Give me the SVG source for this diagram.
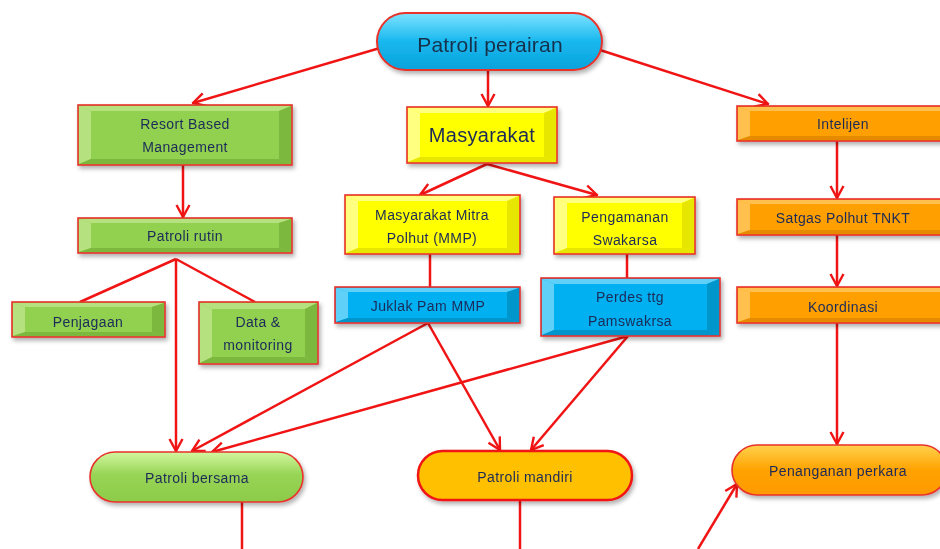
<svg xmlns="http://www.w3.org/2000/svg" width="940" height="549" viewBox="0 0 940 549">
<defs>
<style>
.t{font-family:"Liberation Sans",Arial,sans-serif;font-size:14px;fill:#1c2a58;text-anchor:middle;letter-spacing:0.4px}
.box{stroke:#e8312a;stroke-width:1.6}
.g{fill:#92d050}.gl{fill:#b5e27f}.gd{fill:#7cb83e}
.y{fill:#ffff00}.yl{fill:#ffff80}.yd{fill:#e6e600}
.o{fill:#ffa000}.ol{fill:#ffc04d}.od{fill:#e68a00}
.b{fill:#00b0f0}.bl{fill:#5fd0f8}.bd{fill:#0096cc}
.c{fill:none;stroke:#f01414;stroke-width:2.5}
</style>
<marker id="ah" viewBox="0 0 15 16" refX="13.5" refY="8" markerWidth="15" markerHeight="16" markerUnits="userSpaceOnUse" orient="auto">
<path d="M1.5,1.5 L13.5,8 L1.5,14.5" fill="none" stroke="#f01414" stroke-width="2.4"/>
</marker>
<filter id="sh" x="-10%" y="-20%" width="125%" height="150%">
<feDropShadow dx="2" dy="3" stdDeviation="2" flood-color="#000" flood-opacity="0.3"/>
</filter>
<linearGradient id="gCyan" x1="0" y1="0" x2="0" y2="1">
<stop offset="0" stop-color="#7ee3ff"/><stop offset="0.5" stop-color="#17b8ee"/><stop offset="1" stop-color="#0aa2dc"/>
</linearGradient>
<linearGradient id="gGreen" x1="0" y1="0" x2="0" y2="1">
<stop offset="0" stop-color="#d2f7a0"/><stop offset="0.45" stop-color="#98d455"/><stop offset="1" stop-color="#8ccb4a"/>
</linearGradient>
<linearGradient id="gOrange" x1="0" y1="0" x2="0" y2="1">
<stop offset="0" stop-color="#ffd24d"/><stop offset="0.5" stop-color="#ffa200"/><stop offset="1" stop-color="#ff9a00"/>
</linearGradient>
</defs>
<rect width="940" height="549" fill="#ffffff"/>

<g id="connectors">
<line class="c" x1="380" y1="48" x2="193" y2="103" marker-end="url(#ah)"/>
<line class="c" x1="488" y1="70" x2="488" y2="106" marker-end="url(#ah)"/>
<line class="c" x1="600" y1="50" x2="768" y2="104" marker-end="url(#ah)"/>
<line class="c" x1="183" y1="165" x2="183" y2="217" marker-end="url(#ah)"/>
<line class="c" x1="487" y1="164" x2="420" y2="195" marker-end="url(#ah)"/>
<line class="c" x1="487" y1="164" x2="597" y2="195" marker-end="url(#ah)"/>
<line class="c" x1="430" y1="254" x2="430" y2="287"/>
<line class="c" x1="627" y1="254" x2="627" y2="278"/>
<line class="c" x1="837" y1="141" x2="837" y2="198" marker-end="url(#ah)"/>
<line class="c" x1="837" y1="235" x2="837" y2="286" marker-end="url(#ah)"/>
<line class="c" x1="837" y1="323" x2="837" y2="444" marker-end="url(#ah)"/>
<line class="c" x1="176" y1="259" x2="80" y2="302"/>
<line class="c" x1="176" y1="259" x2="255" y2="302"/>
<line class="c" x1="176" y1="259" x2="176" y2="451" marker-end="url(#ah)"/>
<line class="c" x1="428" y1="323" x2="192" y2="451" marker-end="url(#ah)"/>
<line class="c" x1="628" y1="336" x2="212" y2="452" marker-end="url(#ah)"/>
<line class="c" x1="428" y1="323" x2="500" y2="450" marker-end="url(#ah)"/>
<line class="c" x1="628" y1="336" x2="531" y2="450" marker-end="url(#ah)"/>
<line class="c" x1="242" y1="502" x2="242" y2="549"/>
<line class="c" x1="520" y1="500" x2="520" y2="549"/>
<line class="c" x1="698" y1="549" x2="737" y2="484" marker-end="url(#ah)"/>
</g>

<g id="patroli-perairan" filter="url(#sh)">
<rect x="377" y="13" width="225" height="57" rx="28.5" fill="url(#gCyan)" stroke="#e8312a" stroke-width="2"/>
<text class="t" x="490" y="52" style="font-size:21px;letter-spacing:0.2px;fill:#14304c">Patroli perairan</text>
</g>

<g id="resort-based" filter="url(#sh)">
<rect class="box g" x="78" y="105" width="214" height="60"/>
<polygon class="gl" points="79,106 291,106 279,111 91,111"/>
<polygon class="gl" points="79,106 91,111 91,159 79,164"/>
<polygon class="gd" points="291,106 279,111 279,159 291,164"/>
<polygon class="gd" points="79,164 91,159 279,159 291,164"/>
<text class="t" x="185" y="129">Resort Based</text>
<text class="t" x="185" y="152">Management</text>
</g>

<g id="patroli-rutin" filter="url(#sh)">
<rect class="box g" x="78" y="218" width="214" height="35"/>
<polygon class="gl" points="79,219 291,219 279,223 91,223"/>
<polygon class="gl" points="79,219 91,223 91,248 79,252"/>
<polygon class="gd" points="291,219 279,223 279,248 291,252"/>
<polygon class="gd" points="79,252 91,248 279,248 291,252"/>
<text class="t" x="185" y="241">Patroli rutin</text>
</g>

<g id="penjagaan" filter="url(#sh)">
<rect class="box g" x="12" y="302" width="153" height="35"/>
<polygon class="gl" points="13,303 164,303 152,307 25,307"/>
<polygon class="gl" points="13,303 25,307 25,332 13,336"/>
<polygon class="gd" points="164,303 152,307 152,332 164,336"/>
<polygon class="gd" points="13,336 25,332 152,332 164,336"/>
<text class="t" x="88" y="327">Penjagaan</text>
</g>

<g id="data-monitoring" filter="url(#sh)">
<rect class="box g" x="199" y="302" width="119" height="62"/>
<polygon class="gl" points="200,303 317,303 305,309 212,309"/>
<polygon class="gl" points="200,303 212,309 212,357 200,363"/>
<polygon class="gd" points="317,303 305,309 305,357 317,363"/>
<polygon class="gd" points="200,363 212,357 305,357 317,363"/>
<text class="t" x="258" y="327">Data &amp;</text>
<text class="t" x="258" y="350">monitoring</text>
</g>

<g id="masyarakat" filter="url(#sh)">
<rect class="box y" x="407" y="107" width="150" height="56"/>
<polygon class="yl" points="408,108 556,108 544,113 420,113"/>
<polygon class="yl" points="408,108 420,113 420,157 408,162"/>
<polygon class="yd" points="556,108 544,113 544,157 556,162"/>
<polygon class="yd" points="408,162 420,157 544,157 556,162"/>
<text class="t" x="482" y="142" style="font-size:20px;letter-spacing:0.3px">Masyarakat</text>
</g>

<g id="mmp" filter="url(#sh)">
<rect class="box y" x="345" y="195" width="175" height="59"/>
<polygon class="yl" points="346,196 519,196 507,201 358,201"/>
<polygon class="yl" points="346,196 358,201 358,248 346,253"/>
<polygon class="yd" points="519,196 507,201 507,248 519,253"/>
<polygon class="yd" points="346,253 358,248 507,248 519,253"/>
<text class="t" x="432" y="220">Masyarakat Mitra</text>
<text class="t" x="432" y="243">Polhut (MMP)</text>
</g>

<g id="pengamanan" filter="url(#sh)">
<rect class="box y" x="554" y="197" width="141" height="57"/>
<polygon class="yl" points="555,198 694,198 682,203 567,203"/>
<polygon class="yl" points="555,198 567,203 567,248 555,253"/>
<polygon class="yd" points="694,198 682,203 682,248 694,253"/>
<polygon class="yd" points="555,253 567,248 682,248 694,253"/>
<text class="t" x="625" y="222">Pengamanan</text>
<text class="t" x="625" y="245">Swakarsa</text>
</g>

<g id="juklak" filter="url(#sh)">
<rect class="box b" x="335" y="287" width="185" height="36"/>
<polygon class="bl" points="336,288 519,288 507,292 348,292"/>
<polygon class="bl" points="336,288 348,292 348,318 336,322"/>
<polygon class="bd" points="519,288 507,292 507,318 519,322"/>
<polygon class="bd" points="336,322 348,318 507,318 519,322"/>
<text class="t" x="428" y="311">Juklak Pam MMP</text>
</g>

<g id="perdes" filter="url(#sh)">
<rect class="box b" x="541" y="278" width="179" height="58"/>
<polygon class="bl" points="542,279 719,279 707,284 554,284"/>
<polygon class="bl" points="542,279 554,284 554,330 542,335"/>
<polygon class="bd" points="719,279 707,284 707,330 719,335"/>
<polygon class="bd" points="542,335 554,330 707,330 719,335"/>
<text class="t" x="630" y="302">Perdes ttg</text>
<text class="t" x="630" y="326">Pamswakrsa</text>
</g>

<g id="intelijen" filter="url(#sh)">
<rect class="box o" x="737" y="106" width="215" height="35"/>
<polygon class="ol" points="738,107 951,107 951,111 750,111"/>
<polygon class="ol" points="738,107 750,111 750,136 738,140"/>
<polygon class="od" points="738,140 750,136 951,136 951,140"/>
<text class="t" x="843" y="129">Intelijen</text>
</g>

<g id="satgas" filter="url(#sh)">
<rect class="box o" x="737" y="199" width="215" height="36"/>
<polygon class="ol" points="738,200 951,200 951,204 750,204"/>
<polygon class="ol" points="738,200 750,204 750,230 738,234"/>
<polygon class="od" points="738,234 750,230 951,230 951,234"/>
<text class="t" x="843" y="223">Satgas Polhut TNKT</text>
</g>

<g id="koordinasi" filter="url(#sh)">
<rect class="box o" x="737" y="287" width="215" height="36"/>
<polygon class="ol" points="738,288 951,288 951,292 750,292"/>
<polygon class="ol" points="738,288 750,292 750,318 738,322"/>
<polygon class="od" points="738,322 750,318 951,318 951,322"/>
<text class="t" x="843" y="312">Koordinasi</text>
</g>

<g id="patroli-bersama" filter="url(#sh)">
<rect x="90" y="452" width="213" height="50" rx="25" fill="url(#gGreen)" stroke="#e8312a" stroke-width="1.6"/>
<text class="t" x="197" y="483">Patroli bersama</text>
</g>

<g id="patroli-mandiri" filter="url(#sh)">
<rect x="418" y="451" width="214" height="49" rx="24.5" fill="#ffc000" stroke="#f01414" stroke-width="2.5"/>
<text class="t" x="525" y="482">Patroli mandiri</text>
</g>

<g id="penanganan-perkara" filter="url(#sh)">
<rect x="732" y="445" width="215" height="50" rx="25" fill="url(#gOrange)" stroke="#e8312a" stroke-width="1.6"/>
<text class="t" x="838" y="476">Penanganan perkara</text>
</g>
</svg>
